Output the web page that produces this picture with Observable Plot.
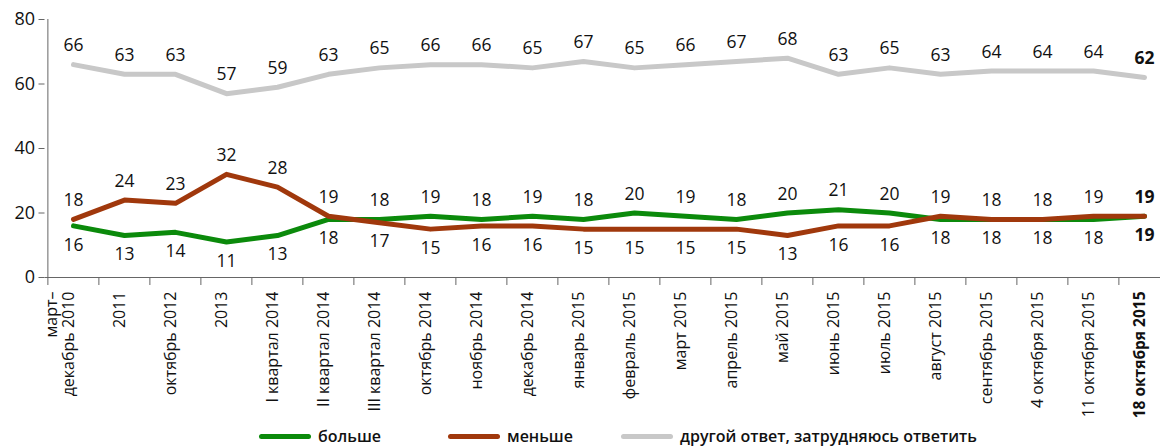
<!DOCTYPE html>
<html><head><meta charset="utf-8">
<script src="https://cdn.jsdelivr.net/npm/d3@7"></script>
<script src="https://cdn.jsdelivr.net/npm/@observablehq/plot@0.6"></script>
<style>
body{margin:0;background:#fff;font-family:"Open Sans",sans-serif;}
#chart svg{display:block;overflow:visible;}
#legend{position:relative;height:23px;width:1160px;font-family:"Open Sans",sans-serif;font-size:16px;font-weight:600;color:#111;}
.sw{position:absolute;top:9px;width:52px;height:5px;border-radius:3px;}
.lt{position:absolute;top:0px;line-height:22px;white-space:nowrap;}
</style></head><body>
<div id="chart"></div>
<div id="legend"></div>
<script>
const categories = ["март–\nдекабрь 2010","2011","октябрь 2012","2013","I квартал 2014","II квартал 2014","III квартал 2014","октябрь 2014","ноябрь 2014","декабрь 2014","январь 2015","февраль 2015","март 2015","апрель 2015","май 2015","июнь 2015","июль 2015","август 2015","сентябрь 2015","4 октября 2015","11 октября 2015","18 октября 2015"];
const more  = [16,13,14,11,13,18,18,19,18,19,18,20,19,18,20,21,20,18,18,18,18,19];
const less  = [18,24,23,32,28,19,17,15,16,16,15,15,15,15,13,16,16,19,18,18,19,19];
const other = [66,63,63,57,59,63,65,66,66,65,67,65,66,67,68,63,65,63,64,64,64,62];
const seriesNames = ["больше","меньше","другой ответ, затрудняюсь ответить"];
const colors = ["#0b8a0b","#a0380c","#c8c8c8"];
const yTicks = [0,20,40,60,80];

const last = categories[categories.length-1];
const rows = categories.map((c,i)=>({cat:c, i, more:more[i], less:less[i], other:other[i]}));
const labels = [];
rows.forEach(d=>{
  labels.push({cat:d.cat, v:d.other, above:true});
  labels.push({cat:d.cat, v:d.less, above:d.less>=d.more});
  labels.push({cat:d.cat, v:d.more, above:d.more>d.less});
});

const W = 1160, H = 425, mL = 44.5, mT = 19, mB = 148;
const xRange = [mL, 1171.5];
const step = (xRange[1]-xRange[0])/categories.length;
const FONT = "Open Sans";

function lbl(filter, above, bold){
  return Plot.text(labels, {x:"cat", y:"v", text:d=>String(d.v), filter:d=>filter(d)&&d.above===above,
    dy: above?-19:19, fontSize:17.5, fontWeight: bold?"bold":"normal", fill:"#111", fontFamily:FONT});
}

const chart = Plot.plot({
  width: W, height: H,
  marginLeft: mL, marginRight: 0, marginTop: mT, marginBottom: mB,
  style:{fontFamily:FONT, background:"#fff", color:"#111"},
  x:{type:"point", domain:categories, range:xRange, padding:0.5, axis:null, label:null},
  y:{domain:[0,80], axis:null, label:null},
  marks:[
    Plot.axisY({ticks:yTicks, tickSize:6, tickPadding:4, fontSize:18, stroke:"#666", fill:"#111", fontFamily:FONT, label:null}),
    Plot.ruleX([categories[0]], {dx:-step/2, y1:0, y2:80, stroke:"#666"}),
    Plot.ruleY([0], {stroke:"#666"}),
    Plot.axisX({tickSize:8, tickFormat:()=>"", dx:-step/2, stroke:"#666", label:null}),
    Plot.text(categories, {x:d=>d, filter:d=>d!==last, frameAnchor:"bottom", rotate:-90, textAnchor:"end", dy:14, fontSize:16, lineHeight:1.05, fill:"#111", fontFamily:FONT}),
    Plot.text(categories, {x:d=>d, filter:d=>d===last, frameAnchor:"bottom", rotate:-90, textAnchor:"end", dy:14, fontSize:15.5, fontWeight:"bold", fill:"#111", fontFamily:FONT}),
    Plot.line(rows, {x:"cat", y:"other", stroke:colors[2], strokeWidth:5, strokeLinejoin:"round"}),
    Plot.line(rows, {x:"cat", y:"more", stroke:colors[0], strokeWidth:5, strokeLinejoin:"round"}),
    Plot.line(rows, {x:"cat", y:"less", stroke:colors[1], strokeWidth:5, strokeLinejoin:"round"}),
    lbl(d=>d.cat!==last, true, false),
    lbl(d=>d.cat!==last, false, false),
    lbl(d=>d.cat===last, true, true),
    lbl(d=>d.cat===last, false, true)
  ]
});
document.getElementById("chart").appendChild(chart);

const legendPos = [259, 448, 621];
const leg = document.getElementById("legend");
seriesNames.forEach((n,i)=>{
  const s = document.createElement("div"); s.className="sw"; s.style.left=legendPos[i]+"px"; s.style.background=colors[i]; leg.appendChild(s);
  const t = document.createElement("div"); t.className="lt"; t.style.left=(legendPos[i]+59)+"px"; t.textContent=n; leg.appendChild(t);
});
</script>
</body></html>
